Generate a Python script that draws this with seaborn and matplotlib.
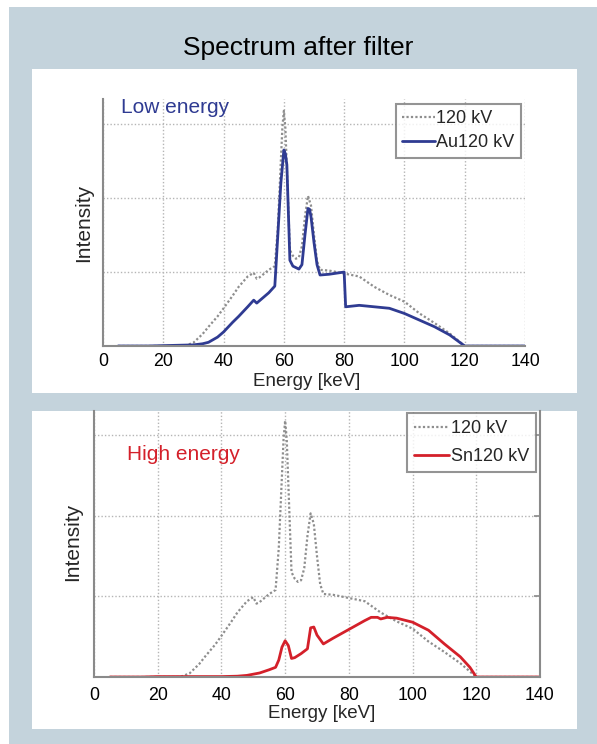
import matplotlib
matplotlib.use("Agg")
import matplotlib.pyplot as plt
from matplotlib.patches import Rectangle
import seaborn as sns
import pandas as pd

# ---------------- data ----------------
ref_energy = [5, 10, 15, 20, 25, 27, 30, 33, 35, 38, 40, 43, 45, 48, 50, 51, 52, 55, 57, 58, 59,
              59.5, 60, 60.5, 61, 62, 63, 64, 65, 66, 67, 68, 69, 70, 71, 72, 75, 80, 85, 90, 95,
              100, 105, 110, 115, 120, 125, 130, 135, 140]
ref_intensity = [0, 0, 0, 0, 0, 0, 0.045, 0.16, 0.26, 0.40, 0.51, 0.68, 0.80, 0.94, 0.99, 0.91, 0.93,
                 1.03, 1.08, 1.6, 2.5, 2.95, 3.18, 2.95, 2.4, 1.30, 1.22, 1.18, 1.20, 1.35, 1.75, 2.03,
                 1.9, 1.5, 1.15, 1.03, 1.02, 0.98, 0.94, 0.80, 0.69, 0.60, 0.44, 0.31, 0.17, 0, 0, 0, 0, 0]

au_energy = [5, 10, 15, 20, 25, 30, 33, 35, 38, 40, 43, 45, 48, 50, 51, 53, 55, 57, 58, 59, 60, 60.5,
             61, 62, 63, 65, 66, 67, 68, 68.5, 69, 70, 71, 72, 75, 80, 80.5, 85, 90, 95, 100, 105,
             110, 115, 120, 125, 130, 135, 140]
au_intensity = [0, 0, 0, 0.005, 0.01, 0.015, 0.03, 0.05, 0.12, 0.19, 0.32, 0.40, 0.53, 0.62, 0.58, 0.65,
                0.72, 0.81, 1.5, 2.2, 2.65, 2.6, 2.45, 1.16, 1.08, 1.04, 1.1, 1.5, 1.86, 1.85, 1.75,
                1.4, 1.1, 0.96, 0.97, 1.0, 0.53, 0.55, 0.53, 0.51, 0.44, 0.35, 0.26, 0.15, 0, 0, 0, 0, 0]

sn_energy = [5, 10, 15, 20, 25, 30, 35, 40, 45, 48, 52, 55, 57, 58, 59, 60, 61, 62, 63, 65, 67, 68, 69,
             70, 72, 75, 80, 85, 87, 89, 90, 92, 95, 100, 105, 110, 115, 118, 120, 125, 130, 135, 140]
sn_intensity = [0, 0, 0, 0.005, 0.005, 0.005, 0.005, 0.005, 0.01, 0.02, 0.05, 0.09, 0.12, 0.21, 0.37,
                0.45, 0.39, 0.23, 0.24, 0.29, 0.35, 0.61, 0.62, 0.52, 0.41, 0.48, 0.59, 0.70, 0.74,
                0.74, 0.72, 0.74, 0.73, 0.68, 0.58, 0.41, 0.25, 0.12, 0, 0, 0, 0, 0]

x_ticks = [0, 20, 40, 60, 80, 100, 120, 140]
y_grid = [0, 1, 2, 3]

title = "Spectrum after filter"
ref_label = "120 kV"
au_label = "Au120 kV"
sn_label = "Sn120 kV"

# ---------------- style ----------------
sns.set_style("white")
plt.rcParams['font.family'] = ['Liberation Sans', 'DejaVu Sans']

GRAY = "#8e8e8e"
BLUE = "#2f3b92"
RED = "#d4202a"
PANEL = "#c4d3dc"
SPINE = "#8a8a8a"

fig = plt.figure(figsize=(5.97, 7.44), dpi=100)
fig.patch.set_facecolor("white")
fig.patches.append(Rectangle((9 / 597, 0), 1 - 9 / 597, 1 - 7 / 744, transform=fig.transFigure,
                             facecolor=PANEL, edgecolor="none", zorder=-3))
fig.patches.append(Rectangle((32 / 597, 1 - 393 / 744), 545 / 597, 324 / 744, transform=fig.transFigure,
                             facecolor="white", edgecolor="none", zorder=-2))
fig.patches.append(Rectangle((32 / 597, 1 - 729 / 744), 545 / 597, 318 / 744, transform=fig.transFigure,
                             facecolor="white", edgecolor="none", zorder=-2))

fig.text(0.5, 1 - 48 / 744, title, ha="center", va="center", fontsize=19, color="black")

ref_df = pd.DataFrame({"Energy": ref_energy, "Intensity": ref_intensity})
au_df = pd.DataFrame({"Energy": au_energy, "Intensity": au_intensity})
sn_df = pd.DataFrame({"Energy": sn_energy, "Intensity": sn_intensity})


def style_axes(ax, ytop, right_spine, pad):
    ax.set_facecolor("none")
    ax.set_xlim(0, 140)
    ax.set_ylim(0, ytop)
    ax.set_xticks(x_ticks)
    ax.set_xticklabels([str(t) for t in x_ticks])
    ax.set_yticks(y_grid)
    ax.set_yticklabels([])
    ax.grid(True, linestyle=(0, (1, 1.5)), color="#b5b5b5", linewidth=1.0)
    ax.set_axisbelow(True)
    for s in ["top", "right"]:
        ax.spines[s].set_visible(False)
    ax.spines["right"].set_visible(right_spine)
    for s in ["left", "bottom", "right"]:
        ax.spines[s].set_color(SPINE)
        ax.spines[s].set_linewidth(1.5)
    ax.tick_params(axis="both", direction="in", length=4, color=SPINE, width=1.2,
                   labelsize=12.8, labelcolor="black", pad=pad, right=right_spine)
    ax.set_xlabel("")
    ax.set_ylabel("")


# ---------------- top panel ----------------
ax1 = fig.add_axes([103 / 597, 1 - 346 / 744, 422 / 597, 247 / 744])
sns.lineplot(data=ref_df, x="Energy", y="Intensity", ax=ax1, color=GRAY, linewidth=1.6,
             estimator=None, label=ref_label, dashes=False)
ax1.lines[-1].set_linestyle((0, (1, 1)))
sns.lineplot(data=au_df, x="Energy", y="Intensity", ax=ax1, color=BLUE, linewidth=2.0,
             estimator=None, label=au_label)
style_axes(ax1, 3.34, False, 5.0)
ax1.text(0.043, 0.943, "Low energy", transform=ax1.transAxes, color=BLUE, fontsize=15,
         ha="left", va="baseline")
leg1 = ax1.legend(loc="upper right", bbox_to_anchor=(0.9905, 0.98), borderaxespad=0,
                  fontsize=13, frameon=True, fancybox=False, handlelength=1.8,
                  handletextpad=0.1, labelspacing=0.4, borderpad=0.35)
leg1.get_frame().set_edgecolor("#7a7a7a")
leg1.get_frame().set_linewidth(1.5)
fig.text(307 / 597, 1 - 382 / 744, "Energy [keV]", ha="center", va="center", fontsize=13.5)
fig.text(84 / 597, 1 - 222.5 / 744, "Intensity", ha="center", va="center", rotation=90, fontsize=15)

# ---------------- bottom panel ----------------
ax2 = fig.add_axes([94 / 597, 1 - 677 / 744, 446 / 597, 266 / 744])
sns.lineplot(data=ref_df, x="Energy", y="Intensity", ax=ax2, color=GRAY, linewidth=1.6,
             estimator=None, label=ref_label)
ax2.lines[-1].set_linestyle((0, (1, 1)))
sns.lineplot(data=sn_df, x="Energy", y="Intensity", ax=ax2, color=RED, linewidth=2.0,
             estimator=None, label=sn_label)
style_axes(ax2, 3.30, True, 7.0)
ax2.text(0.074, 0.816, "High energy", transform=ax2.transAxes, color=RED, fontsize=15,
         ha="left", va="baseline")
leg2 = ax2.legend(loc="upper right", bbox_to_anchor=(0.991, 0.992), borderaxespad=0,
                  fontsize=13, frameon=True, fancybox=False, handlelength=1.9,
                  handletextpad=0.1, labelspacing=0.6, borderpad=0.4)
leg2.get_frame().set_edgecolor("#7a7a7a")
leg2.get_frame().set_linewidth(1.5)
fig.text(322 / 597, 1 - 713 / 744, "Energy [keV]", ha="center", va="center", fontsize=13.5)
fig.text(73 / 597, 1 - 542 / 744, "Intensity", ha="center", va="center", rotation=90, fontsize=15)

fig.savefig("out.png", dpi=100, facecolor=fig.get_facecolor())
